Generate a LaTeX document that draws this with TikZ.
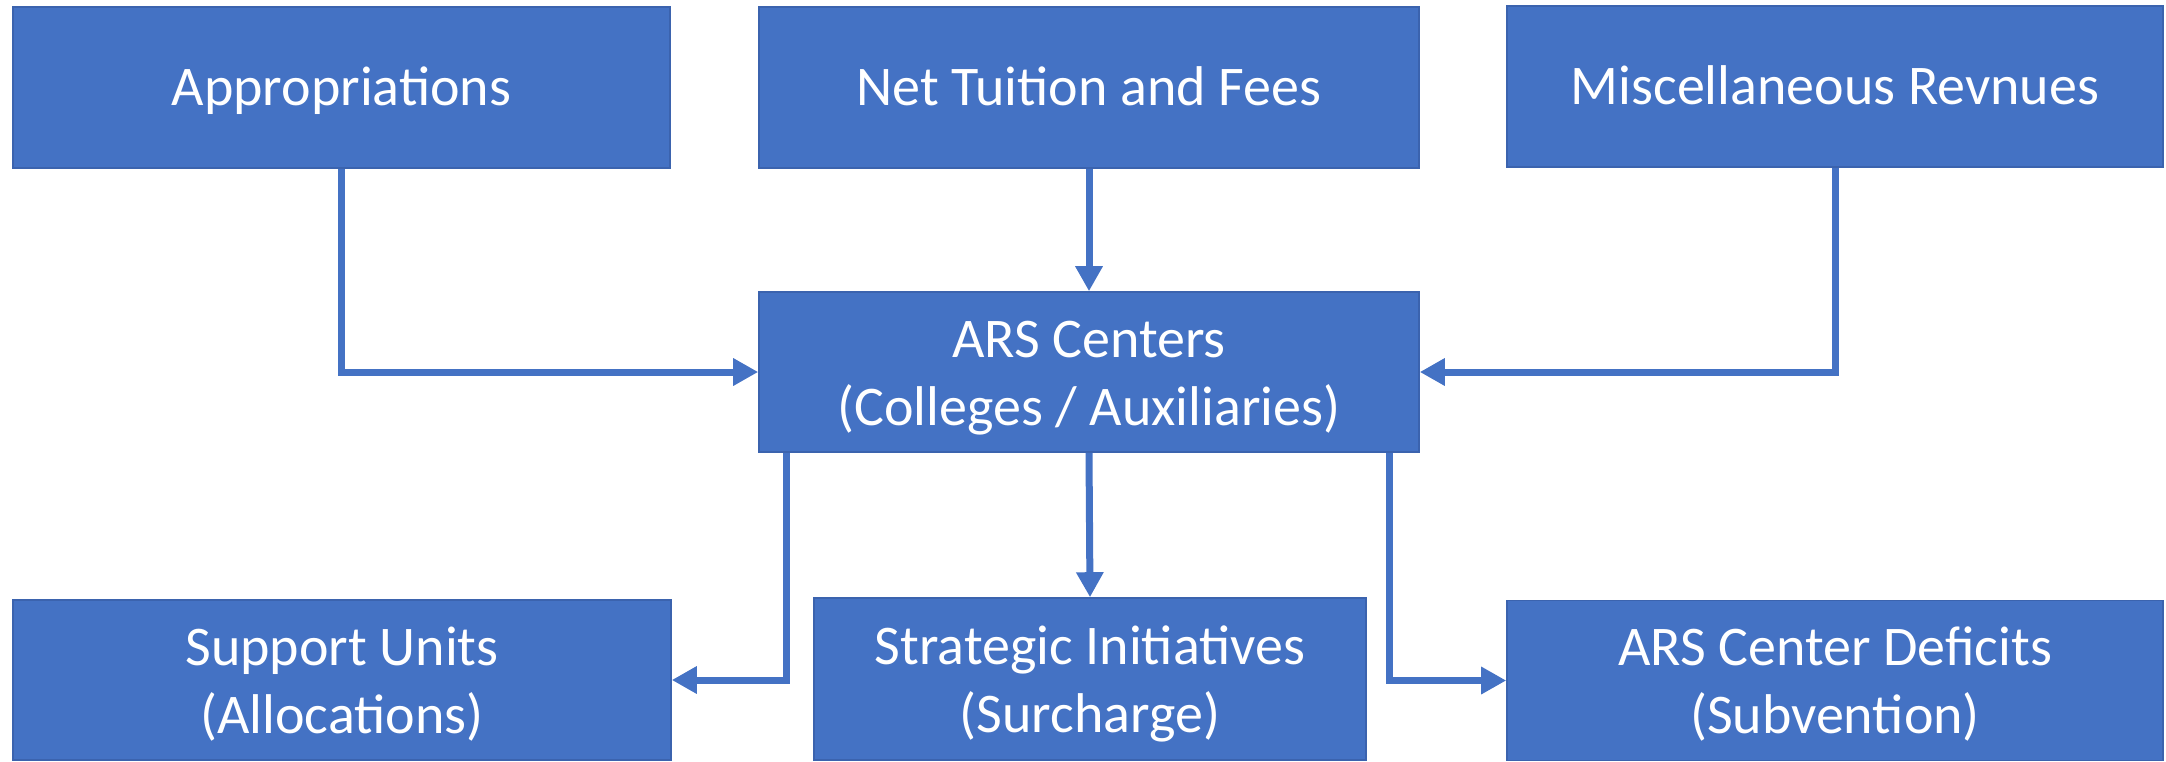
\documentclass[tikz,border=0pt]{standalone}
\usepackage{fontspec}
\setmainfont{Carlito}
\usetikzlibrary{arrows.meta}
\definecolor{boxblue}{HTML}{4472C4}
\definecolor{boxline}{HTML}{3B63AE}
\definecolor{flowblue}{HTML}{4472C4}
\newcommand\mytop{\rule{0pt}{26pt}}
\newcommand\mybot{\rule[-7pt]{0pt}{7pt}}
\newcommand\myone{\rule[-7pt]{0pt}{31.5pt}}
\begin{document}
\begin{tikzpicture}[x=0.5pt,y=-0.5pt,
  box/.style={draw=boxline, line width=0.8pt, fill=boxblue, text=white,
    align=center, inner sep=0pt, font=\fontsize{28}{34}\selectfont},
  flow/.style={draw=flowblue, line width=3.5pt, line join=miter,
    -{Triangle[length=12.5pt,width=13pt]}}]
\useasboundingbox (0,0) rectangle (2166,761);
% top row
\node[box, minimum width=328.5pt, minimum height=80.5pt] (appr) at (341.5,87.5) {\myone Appropriations};
\node[box, minimum width=330pt, minimum height=80.5pt] (tuit) at (1089,87.5) {\myone Net Tuition and Fees};
\node[box, minimum width=328pt, minimum height=80.5pt] (misc) at (1835,86.5) {\myone Miscellaneous Revnues};
% middle
\node[box, minimum width=330pt, minimum height=80pt] (ars) at (1089,372) {\mytop ARS Centers\\\mybot(Colleges / Auxiliaries)};
% bottom row
\node[box, minimum width=329pt, minimum height=80pt] (sup) at (342,680) {\mytop Support Units\\\mybot(Allocations)};
\node[box, minimum width=276pt, minimum height=81pt] (strat) at (1090,679) {\mytop Strategic Initiatives\\\mybot(Surcharge)};
\node[box, minimum width=328pt, minimum height=80pt] (def) at (1835,680.5) {\mytop ARS Center Deficits\\\mybot(Subvention)};
% connectors
\draw[flow] (appr.south) |- (ars.west);
\draw[flow] (tuit.south) -- (ars.north);
\draw[flow] (misc.south) |- (ars.east);
\draw[flow] ([xshift=14pt]ars.south west) |- (sup.east);
\draw[flow] (ars.south) -- (strat.north);
\draw[flow] ([xshift=-15pt]ars.south east) |- (def.west);
\end{tikzpicture}
\end{document}
